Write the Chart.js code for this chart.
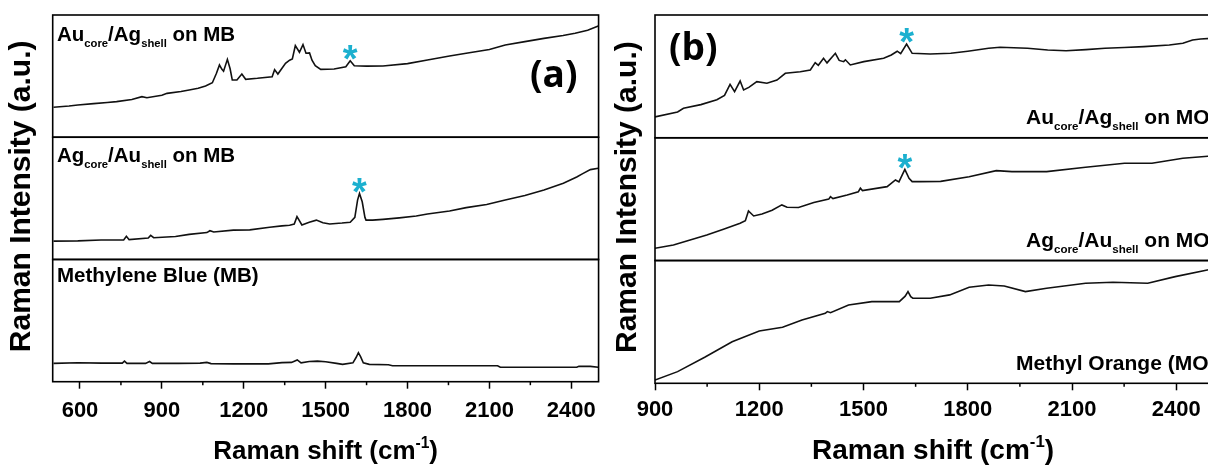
<!DOCTYPE html>
<html>
<head>
<meta charset="utf-8">
<script src="https://cdn.jsdelivr.net/npm/chart.js@4"></script>
<style>
html, body { margin: 0; padding: 0; background: #fff; overflow: hidden; width: 1208px; height: 467px; }
#wrapA { position: absolute; left: 0; top: 0; width: 605px; height: 467px; }
#wrapB { position: absolute; left: 605px; top: 0; width: 620px; height: 467px; }
</style>
</head>
<body>
<div id="wrapA"><canvas id="chartA" width="605" height="467"></canvas></div>
<div id="wrapB"><canvas id="chartB" width="620" height="467"></canvas></div>
<script>
// x axis ticks (Raman shift, cm-1)
var xTicksA = [600, 900, 1200, 1500, 1800, 2100, 2400];
var xMinorA = [750, 1050, 1350, 1650, 1950, 2250];
var xTicksB = [900, 1200, 1500, 1800, 2100, 2400];
var xMinorB = [1050, 1350, 1650, 1950, 2250];

// panel (a) spectra, [shift, intensity a.u.]
var auAgOnMB = [[503,24.5],[560,25.6],[592,26.4],[650,27.5],[700,28.4],[734,29.1],[790,30.8],[827,33.2],[845,32.3],[900,34.3],[919,35.9],[970,37.4],[1000,38.6],[1033,40],[1060,41.9],[1085,44.6],[1100,52.3],[1111,59.1],[1120,55.5],[1126,54],[1140,63.7],[1150,56],[1158,46.8],[1175,46.8],[1193,51.7],[1207,47.4],[1250,48.2],[1304,49.5],[1313,55.3],[1325,51.7],[1353,60.5],[1368,63],[1378,64],[1389,75],[1404,69.5],[1417,75.8],[1428,68.7],[1441,69],[1450,63],[1462,58.5],[1482,55.5],[1531,55.8],[1574,57.7],[1590,62.6],[1605,58.5],[1650,58.2],[1710,58.3],[1800,60.2],[1873,63.2],[1954,66.5],[2015,68.7],[2100,71.8],[2158,75.4],[2230,78.2],[2300,80.9],[2370,83.2],[2414,85],[2460,87.5],[2499,91]];
var agAuOnMB = [[503,15],[592,15.2],[677,15.9],[760,16],[770,19],[780,16.2],[850,17.5],[859,19.7],[870,17.8],[950,18.8],[1000,20.5],[1065,22],[1076,23.5],[1090,22.5],[1162,24],[1222,24.2],[1295,26.3],[1340,27.5],[1368,28],[1385,29],[1395,35],[1413,28.2],[1440,30.5],[1466,32.2],[1490,30],[1515,29],[1560,29.8],[1590,30.5],[1607,34.4],[1617,48.6],[1624,54],[1634,47.2],[1644,34.4],[1648,32.2],[1672,32.2],[1710,32.8],[1770,34],[1832,35.5],[1873,37.2],[1954,39.6],[2015,42.4],[2090,45],[2158,48.6],[2230,52.4],[2300,56.8],[2371,62.3],[2420,67.5],[2442,70.2],[2470,73.5],[2499,74.6]];
var methyleneBlue = [[503,15],[592,15.5],[680,15.2],[755,15.2],[763,16.8],[772,15],[840,15],[855,16.5],[865,15],[960,15],[1040,15.2],[1065,15.8],[1080,14.8],[1162,14.6],[1290,14.6],[1340,15.6],[1375,15.8],[1396,17.8],[1410,15.4],[1440,16.5],[1470,16.8],[1500,16.3],[1540,15],[1562,14.2],[1600,15.4],[1612,20],[1620,23.7],[1628,20.5],[1638,15.4],[1660,14.2],[1730,13.9],[1745,13.1],[1900,13.1],[2000,13.1],[2130,13.1],[2140,11.8],[2300,11.8],[2420,11.8],[2428,12.6],[2470,12.5],[2499,11.8]];

// panel (b) spectra
var auAgOnMO = [[900,17],[965,21],[982,24],[1032,27],[1078,31],[1100,34.5],[1116,43.5],[1129,37.5],[1145,46.2],[1155,38.9],[1170,41],[1193,45.7],[1222,44.4],[1251,47],[1275,52.5],[1318,53.8],[1347,55.2],[1361,61.2],[1370,59],[1385,64.7],[1395,61],[1419,68.8],[1430,63],[1443,62],[1448,63.5],[1462,59.3],[1501,62],[1558,64.7],[1580,67.4],[1597,70.5],[1607,68.5],[1624,76.4],[1640,68.8],[1692,68.2],[1751,68.8],[1800,70.5],[1860,72.9],[1893,73.7],[1972,72.9],[2030,71.5],[2083,70.9],[2140,71.8],[2195,72.9],[2250,73.5],[2307,74.2],[2380,75.5],[2419,77],[2447,79.6],[2470,80.5],[2500,81]];
var agAuOnMO = [[900,10],[953,12.7],[1001,16.8],[1049,20.8],[1097,25.5],[1145,30.4],[1160,32.5],[1169,40.4],[1184,36.3],[1208,37.9],[1237,41],[1265,45.3],[1280,43.4],[1313,43.2],[1357,47.2],[1400,50],[1405,52],[1412,50.5],[1453,53.4],[1485,56],[1491,58.9],[1497,57],[1568,60.2],[1592,65.6],[1602,64],[1619,74.3],[1631,67],[1640,64.3],[1664,64.3],[1722,64.5],[1804,68.3],[1882,73.2],[1927,72.4],[2027,72.4],[2139,76],[2251,79.2],[2330,79.2],[2419,83.3],[2500,85.2]];
var methylOrange = [[900,2.7],[965,9.5],[1043,21.2],[1122,33.9],[1200,42.6],[1267,45.6],[1323,51.6],[1390,57],[1396,58.4],[1405,57.5],[1457,63.8],[1524,66.5],[1603,66.5],[1620,71],[1628,74.7],[1636,70.5],[1642,69.3],[1692,69.3],[1748,72],[1804,78.2],[1860,80.1],[1905,79.3],[1966,74.7],[2027,77.4],[2139,81.5],[2218,82.3],[2318,81.5],[2397,86.9],[2500,92.9]];

// peaks marked with a star: [axis, shift]
var starsA = [['yTop', 1590], ['yMid', 1624]];
var starsB = [['yTop', 1624], ['yMid', 1619]];

var FONT = '"Liberation Sans", Arial, Helvetica, sans-serif';
var STAR = '#1cb0cf';

function pts(arr) {
  return arr.map(function (p) { return { x: p[0], y: p[1] }; });
}

function drawRuns(ctx, runs, x, y, size) {
  runs.forEach(function (r) {
    var sub = r[1];
    ctx.font = 'bold ' + (sub ? size * 0.55 : size) + 'px ' + FONT;
    ctx.fillText(r[0], x, sub ? y + size * 0.3 : y);
    x += ctx.measureText(r[0]).width;
  });
}

function panelPlugin(cfg) {
  return {
    id: 'panel',
    afterDraw: function (chart) {
      var ctx = chart.ctx;
      var area = chart.chartArea;
      var xs = chart.scales.x;
      ctx.save();
      ctx.strokeStyle = '#000';
      ctx.lineWidth = 1.6;
      ['yTop', 'yMid', 'yBot'].forEach(function (k) {
        var s = chart.scales[k];
        ctx.strokeRect(area.left, s.top, area.right - area.left, s.bottom - s.top);
      });
      // minor ticks
      ctx.lineWidth = 1.5;
      cfg.minor.forEach(function (v) {
        var px = xs.getPixelForValue(v);
        ctx.beginPath();
        ctx.moveTo(px, area.bottom);
        ctx.lineTo(px, area.bottom + 3.5);
        ctx.stroke();
      });
      // sub-panel labels
      ctx.fillStyle = '#000';
      ctx.textAlign = 'left';
      ctx.textBaseline = 'alphabetic';
      cfg.labels.forEach(function (l) {
        drawRuns(ctx, l.runs, l.x, chart.scales[l.axis].top + l.dy, cfg.labelSize);
      });
      // panel letter
      ctx.font = 'bold ' + cfg.letter.size + 'px "Open Sans", ' + FONT;
      ctx.fillText(cfg.letter.text, cfg.letter.x, cfg.letter.y);
      // stars
      ctx.fillStyle = STAR;
      ctx.font = 'bold 38px ' + FONT;
      ctx.textAlign = 'center';
      var m = ctx.measureText('*');
      var off = (m.actualBoundingBoxAscent - m.actualBoundingBoxDescent) / 2;
      cfg.stars.forEach(function (st) {
        var ds = chart.data.datasets.find(function (d) { return d.yAxisID === st[0]; });
        var pt = ds.data.find(function (p) { return p.x === st[1]; });
        var px = xs.getPixelForValue(st[1]);
        var py = chart.scales[st[0]].getPixelForValue(pt.y) - 8;
        ctx.fillText('*', px, py + off);
      });
      // axis titles
      ctx.fillStyle = '#000';
      var midX = (area.left + area.right) / 2;
      ctx.font = 'bold ' + cfg.xTitleSize + 'px ' + FONT;
      var t1 = 'Raman shift (cm', t2 = '-1', t3 = ')';
      var w1 = ctx.measureText(t1).width, w3 = ctx.measureText(t3).width;
      ctx.font = 'bold ' + (cfg.xTitleSize * 0.6) + 'px ' + FONT;
      var w2 = ctx.measureText(t2).width;
      var x0 = midX - (w1 + w2 + w3) / 2;
      ctx.textAlign = 'left';
      ctx.font = 'bold ' + cfg.xTitleSize + 'px ' + FONT;
      ctx.fillText(t1, x0, cfg.xTitleY);
      ctx.fillText(t3, x0 + w1 + w2, cfg.xTitleY);
      ctx.font = 'bold ' + (cfg.xTitleSize * 0.6) + 'px ' + FONT;
      ctx.fillText(t2, x0 + w1, cfg.xTitleY - cfg.xTitleSize * 0.42);
      ctx.translate(cfg.yTitleX, (area.top + area.bottom) / 2 - 2);
      ctx.rotate(-Math.PI / 2);
      ctx.textAlign = 'center';
      ctx.textBaseline = 'middle';
      ctx.font = 'bold ' + cfg.yTitleSize + 'px ' + FONT;
      ctx.fillText('Raman Intensity (a.u.)', 0, 0);
      ctx.restore();
    }
  };
}

function makeChart(id, xMin, xMax, ticks, series, pad, tickPad, cfg) {
  var yAxis = { type: 'linear', position: 'left', stack: 'p', stackWeight: 1, min: 0, max: 100, display: false };
  return new Chart(document.getElementById(id), {
    type: 'line',
    data: {
      datasets: series.map(function (s) {
        return {
          data: pts(s[0]), yAxisID: s[1],
          borderColor: '#111', borderWidth: 1.6, pointRadius: 0, tension: 0, fill: false
        };
      })
    },
    options: {
      responsive: false,
      animation: false,
      events: [],
      layout: { padding: pad },
      plugins: { legend: { display: false }, tooltip: { enabled: false } },
      scales: {
        x: {
          type: 'linear', min: xMin, max: xMax,
          afterBuildTicks: function (s) { s.ticks = ticks.map(function (v) { return { value: v }; }); },
          afterFit: function (s) { s.height = 80; },
          ticks: {
            autoSkip: false, maxRotation: 0, padding: tickPad, color: '#000',
            font: { family: FONT, weight: 'bold', size: 22 },
            callback: function (v) { return String(v); }
          },
          grid: { display: true, drawOnChartArea: false, drawTicks: true, tickLength: 7, tickWidth: 1.5, tickColor: '#000' },
          border: { display: false }
        },
        yBot: Object.assign({}, yAxis),
        yMid: Object.assign({}, yAxis),
        yTop: Object.assign({}, yAxis)
      }
    },
    plugins: [panelPlugin(cfg)]
  });
}

makeChart('chartA', 500, 2500, xTicksA,
  [[auAgOnMB, 'yTop'], [agAuOnMB, 'yMid'], [methyleneBlue, 'yBot']],
  { left: 52.7, right: 5, top: 15, bottom: 5.3 }, 9,
  {
    minor: xMinorA, stars: starsA, labelSize: 20.5,
    labels: [
      { axis: 'yTop', x: 57, dy: 26, runs: [['Au'], ['core', 1], ['/Ag'], ['shell', 1], [' on MB']] },
      { axis: 'yMid', x: 57, dy: 25, runs: [['Ag'], ['core', 1], ['/Au'], ['shell', 1], [' on MB']] },
      { axis: 'yBot', x: 57, dy: 23, runs: [['Methylene Blue (MB)']] }
    ],
    letter: { text: '(a)', size: 37, x: 530, y: 87 },
    xTitleSize: 26, xTitleY: 459, yTitleX: 22, yTitleSize: 30
  });

makeChart('chartB', 900, 2500, xTicksB,
  [[auAgOnMO, 'yTop'], [agAuOnMO, 'yMid'], [methylOrange, 'yBot']],
  { left: 50, right: 14, top: 15, bottom: 3.7 }, 6,
  {
    minor: xMinorB, stars: starsB, labelSize: 21,
    labels: [
      { axis: 'yTop', x: 421, dy: 109, runs: [['Au'], ['core', 1], ['/Ag'], ['shell', 1], [' on MO']] },
      { axis: 'yMid', x: 421, dy: 109, runs: [['Ag'], ['core', 1], ['/Au'], ['shell', 1], [' on MO']] },
      { axis: 'yBot', x: 411, dy: 109, runs: [['Methyl Orange (MO)']] }
    ],
    letter: { text: '(b)', size: 37, x: 64, y: 60 },
    xTitleSize: 28, xTitleY: 459, yTitleX: 23, yTitleSize: 30
  });
</script>
</body>
</html>
